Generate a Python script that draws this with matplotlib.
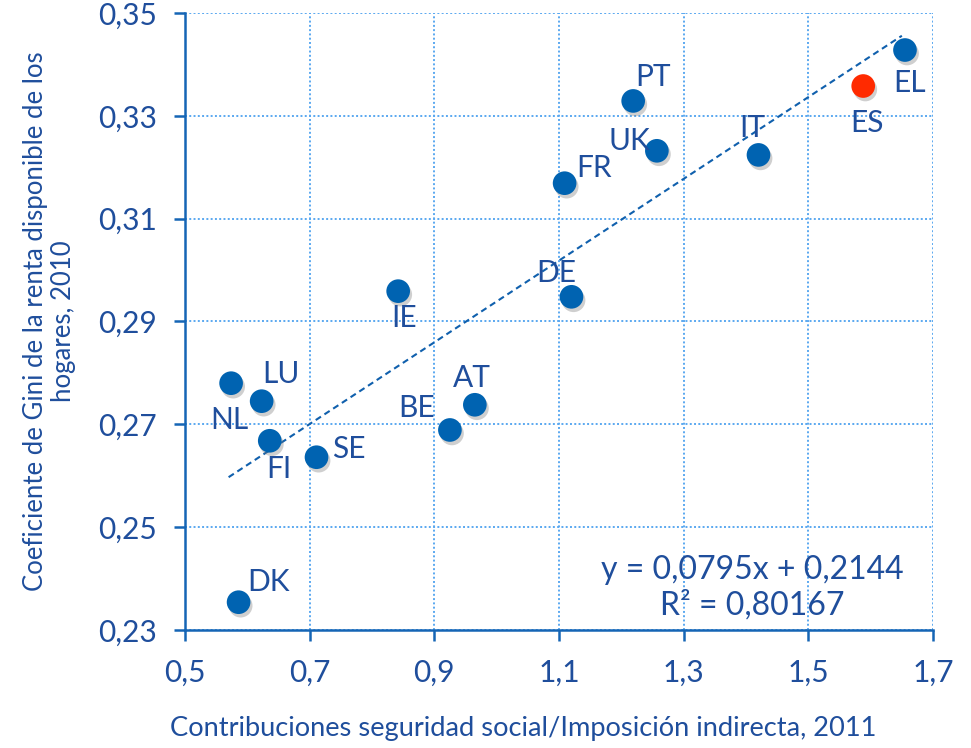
import matplotlib
matplotlib.use("Agg")
import matplotlib.pyplot as plt
import matplotlib.patheffects as pe

plt.rcParams['font.family'] = ['Lato', 'DejaVu Sans']

countries = ["NL", "LU", "FI", "SE", "DK", "IE", "BE", "AT", "DE", "FR", "PT", "UK", "IT", "ES", "EL"]
contrib = [0.574, 0.623, 0.636, 0.711, 0.586, 0.842, 0.925, 0.965, 1.120, 1.109, 1.219, 1.257, 1.420, 1.588, 1.655]
gini = [0.2780, 0.2745, 0.2668, 0.2636, 0.2354, 0.2959, 0.2689, 0.2738, 0.2948, 0.3169, 0.3329, 0.3232, 0.3224, 0.3358, 0.3428]
# label offsets in pixels (dx, dy)
offsets = [(-2, -37), (19, 27), (9, -28), (32, 8), (30, 20), (6, -27), (-33, 22), (-3, 27),
           (-15, 24), (29, 15), (20, 24), (-28, 10), (-6, 27), (4, -37), (5, -33)]

slope = 0.0795
intercept = 0.2144
r2 = "0,80167"
trend_x = [0.57, 1.65]

xticks = [0.5, 0.7, 0.9, 1.1, 1.3, 1.5, 1.7]
yticks = [0.23, 0.25, 0.27, 0.29, 0.31, 0.33, 0.35]

text_col = "#1f4e9c"
dot_col = "#0063b1"
axis_col = "#1565b5"
grid_col = "#5aa8f0"

fig = plt.figure(figsize=(9.71, 7.48), dpi=100)
ax = fig.add_axes([0.1905, 0.1578, 0.9609 - 0.1905, 0.9826 - 0.1578])

ax.grid(True, linestyle=(0, (1, 1.2)), color=grid_col, linewidth=1.4)
ax.set_axisbelow(True)

ax.plot(trend_x, [slope * v + intercept for v in trend_x], linestyle=(0, (3, 2)),
        color="#1060ad", linewidth=1.5, zorder=2)

shadow = [pe.SimplePatchShadow(offset=(1.5, -2.5), shadow_rgbFace="#777777", alpha=0.35), pe.Normal()]
colors = ["#ff2a00" if c == "ES" else dot_col for c in countries]
sc = ax.scatter(contrib, gini, s=290, c=colors, zorder=3, linewidths=0)
sc.set_path_effects(shadow)

for name, xv, yv, (dx, dy) in zip(countries, contrib, gini, offsets):
    ax.annotate(name, (xv, yv), xytext=(dx, dy), textcoords="offset pixels",
                ha="center", va="center", fontsize=21.5, color=text_col)

ax.text(0.758, 0.068, "y = 0,0795x + 0,2144\nR² = " + r2, transform=ax.transAxes,
        ha="center", va="center", fontsize=23, color=text_col, linespacing=1.2)

ax.set_xlim(0.5, 1.7)
ax.set_ylim(0.23, 0.35)
ax.set_xticks(xticks)
ax.set_yticks(yticks)
ax.set_xticklabels([f"{v:.1f}".replace(".", ",") for v in xticks])
ax.set_yticklabels([f"{v:.2f}".replace(".", ",") for v in yticks])
ax.tick_params(direction="out", length=8, width=1.8, color=axis_col, labelcolor=text_col,
               labelsize=21.5, pad=12)
ax.tick_params(axis="x", pad=13)

for side in ["top", "right"]:
    ax.spines[side].set_visible(False)
for side in ["left", "bottom"]:
    ax.spines[side].set_color(axis_col)
    ax.spines[side].set_linewidth(1.8)

ax.set_xlabel("Contribuciones seguridad social/Imposición indirecta, 2011",
              fontsize=19.6, color=text_col, va="center")
ax.xaxis.set_label_coords(0.452, -0.16)
ax.set_ylabel("Coeficiente de Gini de la renta disponible de los\nhogares, 2010",
              fontsize=18.5, color=text_col, labelpad=16, linespacing=1.15)

fig.savefig("out.png", dpi=100)
